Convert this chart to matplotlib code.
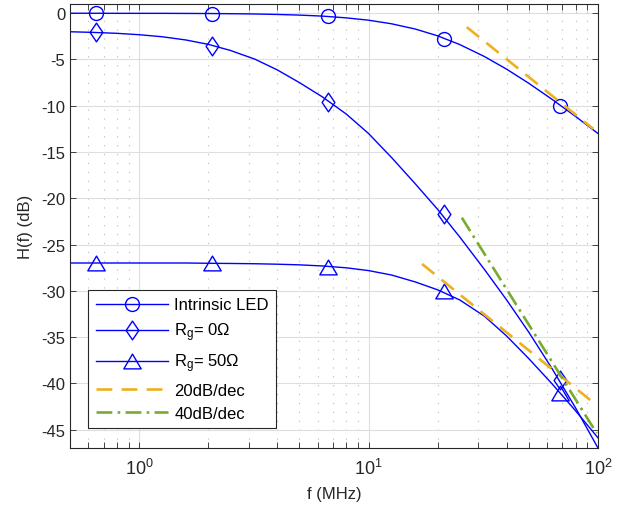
import numpy as np
import matplotlib
matplotlib.use('Agg')
import matplotlib.pyplot as plt
from matplotlib.path import Path

plt.rcParams['font.family'] = ['Liberation Sans', 'DejaVu Sans']
plt.rcParams['axes.unicode_minus'] = False
plt.rcParams['mathtext.fontset'] = 'custom'
plt.rcParams['mathtext.rm'] = 'Liberation Sans'
plt.rcParams['mathtext.it'] = 'Liberation Sans'

# frequencies (MHz) where the fitted curves were read
f_curve = [0.5, 0.63, 0.8, 1, 1.26, 1.6, 2, 2.5, 3.2, 4, 5, 6.3, 8, 10,
           12.6, 16, 20, 25, 32, 40, 50, 63, 80, 100]
led_curve = [0.0, 0.0, -0.01, -0.01, -0.01, -0.02, -0.03, -0.05, -0.08, -0.13, -0.2, -0.31,
             -0.5, -0.75, -1.14, -1.71, -2.44, -3.39, -4.68, -6.05, -7.58, -9.3, -11.17, -13.0]
rg0_curve = [-2.0, -2.07, -2.17, -2.32, -2.54, -2.89, -3.36, -4.02, -4.97, -6.12, -7.5, -9.05,
             -10.9, -13.0, -15.6, -18.45, -21.2, -24.2, -27.7, -31.0, -34.5, -38.4, -42.7, -47.0]
rg50_curve = [-27.0, -27.0, -27.0, -27.0, -27.0, -27.0, -27.03, -27.05, -27.08, -27.13, -27.2, -27.32,
              -27.52, -27.82, -28.3, -29.05, -29.9, -31.0, -32.75, -34.9, -37.35, -40.05, -43.0, -45.9]

# measured points
f_meas = [0.65, 2.08, 6.66, 21.3, 68.3]
led_meas = [0.0, -0.05, -0.35, -2.75, -10.05]
rg0_meas = [-2.05, -3.57, -9.6, -21.75, -39.7]
rg50_meas = [-26.95, -27.0, -27.4, -30.0, -41.1]

# asymptotes (end points)
f_20a = [26.8, 95.4]
db_20a = [-1.5, -12.5]
f_20b = [17.1, 94.5]
db_20b = [-27.1, -42.0]
f_40 = [25.5, 98.7]
db_40 = [-22.1, -45.4]

blue = (0, 0, 1)
orange = '#EDB120'
green = '#77AC30'
dark = '#262626'

# matlab-like diamond and triangle
diamond = Path([(0, 1), (0.68, 0), (0, -1), (-0.68, 0), (0, 1)], closed=True)
triangle = Path([(0, 0.85), (-1, -0.85), (1, -0.85), (0, 0.85)], closed=True)

fig = plt.figure(figsize=(6.29, 5.10), dpi=100)
ax = fig.add_axes([0.1113, 0.1196, 0.8394, 0.8706])

ax.semilogx(f_curve, led_curve, '-', color=blue, lw=1.0)
ax.semilogx(f_curve, rg0_curve, '-', color=blue, lw=1.0)
ax.semilogx(f_curve, rg50_curve, '-', color=blue, lw=1.0)
ax.semilogx(f_meas, led_meas, 'o', color=blue, mfc='none', ms=10, mew=1.0)
ax.semilogx(f_meas, rg0_meas, marker=diamond, ls='none', color=blue, mfc='none', ms=13.5, mew=1.0)
ax.semilogx(f_meas, rg50_meas, marker=triangle, ls='none', color=blue, mfc='none', ms=12.5, mew=1.0)

ax.semilogx(f_20a, db_20a, color=orange, lw=1.9, dashes=(6, 3.5))
ax.semilogx(f_20b, db_20b, color=orange, lw=1.9, dashes=(6, 3.5))
ax.semilogx(f_40, db_40, color=green, lw=1.9, dashes=(6, 2, 1, 2))

# legend proxies
h1, = ax.plot([], [], '-o', color=blue, mfc='none', ms=10, lw=1.0)
h2, = ax.plot([], [], '-', marker=diamond, color=blue, mfc='none', ms=13.5, lw=1.0)
h3, = ax.plot([], [], '-', marker=triangle, color=blue, mfc='none', ms=12.5, lw=1.0)
h4, = ax.plot([], [], color=orange, lw=1.9, dashes=(6, 3.5))
h5, = ax.plot([], [], color=green, lw=1.9, dashes=(6, 2, 1, 2))
leg = ax.legend([h1, h2, h3, h4, h5],
                ['Intrinsic LED', r'R$_\mathregular{g}$= 0$\Omega$', r'R$_\mathregular{g}$= 50$\Omega$',
                 '20dB/dec', '40dB/dec'],
                loc='lower left', bbox_to_anchor=(0.035, 0.044), borderaxespad=0,
                fontsize=12, handlelength=4.3, numpoints=1, labelspacing=0.5,
                fancybox=False, framealpha=1, edgecolor=dark, borderpad=0.45, handletextpad=0.4)
leg.get_frame().set_linewidth(0.8)

ax.set_xlim(0.5, 100)
ax.set_ylim(-47, 1)
ax.set_yticks(np.arange(-45, 1, 5))
ax.grid(True, which='major', color='#dedede', lw=0.8)
ax.grid(True, which='minor', axis='x', color='#b8b8b8', lw=0.8, linestyle=(0, (1, 7)))
ax.set_axisbelow(True)

ax.tick_params(which='both', direction='in', top=True, right=True, colors=dark,
               labelsize=12, length=4, width=0.6)
ax.tick_params(axis='x', which='major', labelsize=13, pad=7)
for s in ax.spines.values():
    s.set_color(dark)
    s.set_linewidth(0.8)

ax.set_xlabel('f (MHz)', fontsize=12, color=dark, labelpad=6)
ax.set_ylabel('H(f) (dB)', fontsize=12, color=dark, labelpad=6)

fig.savefig('out.png', dpi=100)
